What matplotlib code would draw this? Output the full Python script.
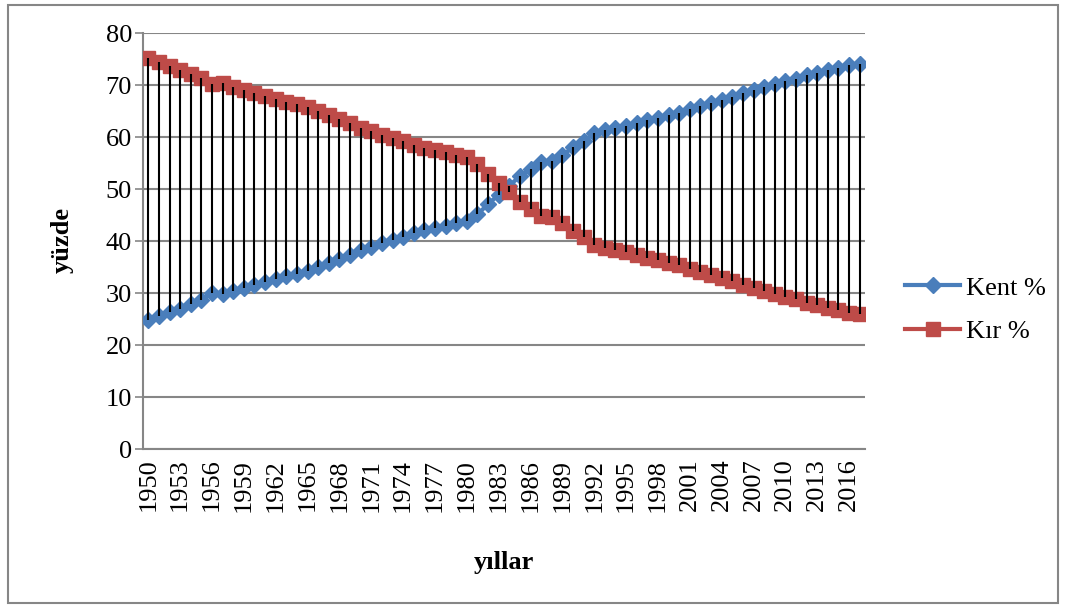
import matplotlib
matplotlib.use("Agg")
import matplotlib.pyplot as plt
from matplotlib.patches import Rectangle

# Urban (Kent) and rural (Kır) population shares, 1950-2017
years = list(range(1950, 2018))

kent = [24.8, 25.5, 26.3, 27.0, 27.8, 28.6, 30.0, 29.8, 30.4, 30.9,
        31.5, 32.1, 32.6, 33.2, 33.6, 34.2, 35.0, 35.8, 36.6, 37.4,
        38.2, 38.9, 39.6, 40.2, 40.8, 41.6, 42.1, 42.5, 42.9, 43.4,
        43.8, 45.1, 47.1, 48.9, 50.6, 52.5, 53.8, 55.2, 55.3, 56.5,
        58.0, 59.2, 60.7, 61.4, 61.8, 62.1, 62.6, 63.2, 63.7, 64.2,
        64.7, 65.3, 65.9, 66.5, 67.1, 67.7, 68.4, 69.0, 69.6, 70.1,
        70.7, 71.2, 71.9, 72.3, 72.9, 73.3, 73.8, 74.0]

kir = [75.1, 74.4, 73.7, 72.9, 72.2, 71.4, 70.1, 70.3, 69.6, 69.0,
       68.5, 67.8, 67.4, 66.7, 66.3, 65.8, 65.0, 64.2, 63.4, 62.6,
       61.8, 61.1, 60.4, 59.8, 59.2, 58.4, 57.9, 57.5, 57.1, 56.6,
       56.2, 54.9, 52.9, 51.1, 49.4, 47.5, 46.2, 44.8, 44.7, 43.5,
       42.0, 40.8, 39.3, 38.6, 38.2, 37.9, 37.4, 36.8, 36.3, 35.8,
       35.3, 34.7, 34.1, 33.5, 32.9, 32.3, 31.6, 31.0, 30.4, 29.9,
       29.3, 28.8, 28.1, 27.7, 27.1, 26.7, 26.2, 26.0]

tick_years = years[::3]
y_ticks = [0, 10, 20, 30, 40, 50, 60, 70, 80]

series_names = ["Kent %", "Kır %"]
kent_color = "#4A7EBB"
kir_color = "#BE4B48"
grid_color = "#868686"

plt.rcParams["font.family"] = ["Liberation Serif", "DejaVu Serif"]
plt.rcParams["font.size"] = 19

W, H = 1066, 608
fig = plt.figure(figsize=(W / 100, H / 100), dpi=100)
fig.patch.set_facecolor("white")

ax = fig.add_axes([143 / W, 1 - 449 / H, 722 / W, 416 / H])

x = list(range(len(years)))

ax.plot(x, kent, color=kent_color, lw=3.0, marker="D", markersize=8.4,
        markerfacecolor=kent_color, markeredgecolor=kent_color,
        label=series_names[0], zorder=3)
ax.plot(x, kir, color=kir_color, lw=3.0, marker="s", markersize=10.2,
        markerfacecolor=kir_color, markeredgecolor=kir_color,
        label=series_names[1], zorder=4)

# high-low lines joining the two series in each year
lo = [min(a, b) for a, b in zip(kent, kir)]
hi = [max(a, b) for a, b in zip(kent, kir)]
ax.vlines(x, lo, hi, colors="black", lw=1.5, zorder=5)

ax.set_xlim(-0.5, len(years) - 0.5)
ax.set_ylim(0, 80)
ax.set_yticks(y_ticks)
ax.set_xticks(x[::3])
ax.set_xticklabels([str(y) for y in tick_years], rotation=90,
                   ha="center", va="top")

ax.yaxis.grid(True, color=grid_color, lw=1.5, zorder=0)
ax.set_axisbelow(True)
for side in ("top", "right"):
    ax.spines[side].set_visible(False)
for side in ("left", "bottom"):
    ax.spines[side].set_color(grid_color)
    ax.spines[side].set_linewidth(1.5)
ax.tick_params(axis="y", length=6, width=1.2, color=grid_color, pad=2)
ax.tick_params(axis="x", length=0, pad=7)

fig.text(62 / W, 1 - 240 / H, "yüzde", rotation=90, ha="center",
         va="center", fontweight="bold")
fig.text(504 / W, 1 - 563 / H, "yıllar", ha="center", va="center",
         fontweight="bold")

ax.legend(loc="center left", bbox_to_anchor=(905 / W, 1 - 309.5 / H),
          bbox_transform=fig.transFigure, frameon=False, borderpad=0,
          borderaxespad=0, handlelength=2.1, handletextpad=0.2,
          labelspacing=0.75)

# outer chart frame
fig.patches.append(Rectangle((8 / W, 1 - 603 / H), 1050 / W, 598 / H,
                             transform=fig.transFigure, fill=False,
                             edgecolor=grid_color, lw=1.5))

fig.savefig("out.png", dpi=100, facecolor="white")
